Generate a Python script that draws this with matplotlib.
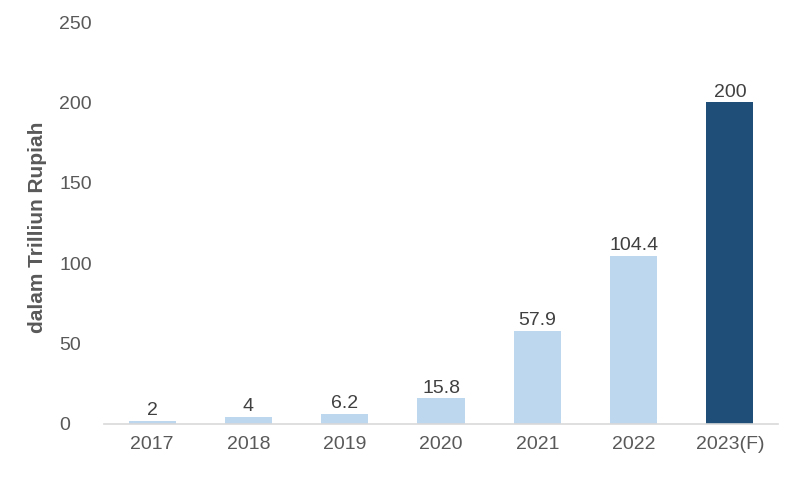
import matplotlib.pyplot as plt

years = ["2017", "2018", "2019", "2020", "2021", "2022", "2023(F)"]
values = [2, 4, 6.2, 15.8, 57.9, 104.4, 200]
labels = ["2", "4", "6.2", "15.8", "57.9", "104.4", "200"]
colors = ["#BDD7EE"] * 6 + ["#1F4E79"]

plt.rcParams['font.family'] = ['Liberation Sans', 'DejaVu Sans']

fig = plt.figure(figsize=(8, 4.8), dpi=100)
ax = fig.add_axes([0.13, 0.117, 0.8425, 0.837])

x = range(len(years))
bars = ax.bar(x, values, width=0.49, color=colors)

for b, lab in zip(bars, labels):
    ax.text(b.get_x() + b.get_width() / 2, b.get_height() + 1.2, lab,
            ha="center", va="bottom", fontsize=14, color="#404040")

ax.set_xlim(-0.5, 6.5)
ax.set_ylim(0, 250)
ax.set_yticks([0, 50, 100, 150, 200, 250])
ax.set_xticks(list(x))
ax.set_xticklabels(years)
ax.tick_params(axis="both", length=0, labelsize=14, colors="#595959")
ax.tick_params(axis="y", pad=32.4)
ax.tick_params(axis="x", pad=9)
for t in ax.get_yticklabels():
    t.set_horizontalalignment("left")

for s in ["top", "right", "left"]:
    ax.spines[s].set_visible(False)
ax.spines["bottom"].set_color("#D9D9D9")
ax.spines["bottom"].set_linewidth(1.2)

ax.set_ylabel("dalam Trilliun Rupiah", fontsize=15, fontweight="bold",
              color="#595959")
ax.yaxis.set_label_coords(-0.085, 0.49)

fig.savefig("out.png")
